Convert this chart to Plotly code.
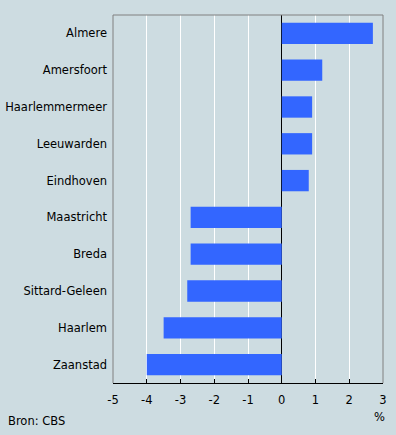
import plotly.graph_objects as go

cities = ["Almere", "Amersfoort", "Haarlemmermeer", "Leeuwarden", "Eindhoven",
          "Maastricht", "Breda", "Sittard-Geleen", "Haarlem", "Zaanstad"]
values = [2.7, 1.2, 0.9, 0.9, 0.8, -2.7, -2.7, -2.8, -3.5, -4.0]
x_ticks = [-5, -4, -3, -2, -1, 0, 1, 2, 3]

BG = "#cddce1"
FONT = "DejaVu Sans"

fig = go.Figure(go.Bar(
    x=values, y=cities, orientation="h",
    marker=dict(color="#3366ff", line=dict(width=0)),
))

fig.update_layout(
    width=396, height=435,
    margin=dict(l=113, r=13, t=15, b=52, autoexpand=False),
    paper_bgcolor=BG, plot_bgcolor=BG,
    font=dict(family=FONT, size=11, color="black"),
    bargap=0.42,
    showlegend=False,
    xaxis=dict(
        range=[-5, 3], tickvals=x_ticks, ticktext=[str(v) for v in x_ticks],
        showgrid=True, gridcolor="white", gridwidth=1,
        zeroline=True, zerolinecolor="black", zerolinewidth=1,
        showline=True, linecolor="black", linewidth=1,
        ticks="inside", ticklen=4, tickcolor="black",
        ticklabelstandoff=6,
        tickfont=dict(family=FONT, size=11.5, color="black"),
        fixedrange=True, automargin=False,
    ),
    yaxis=dict(
        categoryorder="array", categoryarray=cities[::-1],
        showgrid=False, zeroline=False, showline=False,
        ticks="", ticklabelstandoff=5,
        tickfont=dict(family=FONT, size=11.5, color="black"),
        fixedrange=True, automargin=False,
    ),
    shapes=[
        dict(type="line", xref="paper", yref="paper", x0=0, x1=1, y0=1, y1=1,
             line=dict(color="#808080", width=1), layer="above"),
        dict(type="line", xref="paper", yref="paper", x0=0, x1=0, y0=0, y1=1,
             line=dict(color="#808080", width=1), layer="above"),
        dict(type="line", xref="paper", yref="paper", x0=1, x1=1, y0=0, y1=1,
             line=dict(color="#808080", width=1), layer="above"),
    ],
    annotations=[
        dict(text="%", xref="paper", yref="paper", x=1, y=0, yshift=-34,
             xshift=-4, xanchor="center", yanchor="middle", showarrow=False,
             font=dict(family=FONT, size=11.5, color="black")),
        dict(text="Bron: CBS", xref="paper", yref="paper", x=0, y=0,
             xshift=-107, yshift=-38, xanchor="left", yanchor="middle",
             showarrow=False,
             font=dict(family=FONT, size=11.5, color="black")),
    ],
)

fig.write_html("out.html", config={"displayModeBar": False},
               post_script="document.body.style.margin='0';document.body.style.padding='0';")
